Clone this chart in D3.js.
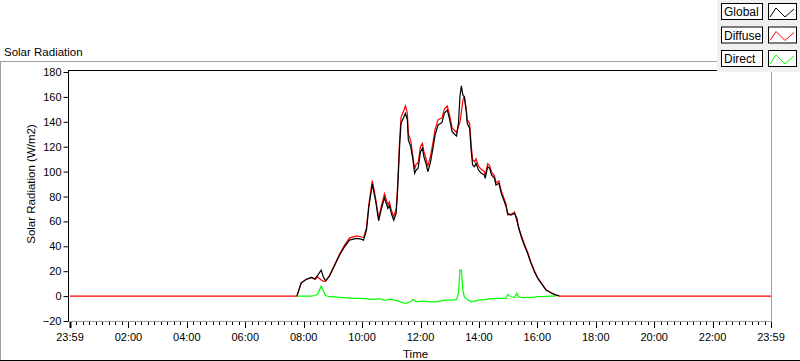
<!DOCTYPE html>
<html>
<head>
<meta charset="utf-8">
<script src="https://cdn.jsdelivr.net/npm/d3@7"></script>
<style>
  body { margin: 0; background: #fff; }
  text { font-family: "Liberation Sans", Arial, sans-serif; fill: #000; }
</style>
</head>
<body>
<svg id="chart" width="800" height="361"></svg>
<script>
// readings, time of day
const times = ["00:00","07:46","07:55","08:05","08:16","08:23","08:29","08:36","08:40","08:45",
  "08:53","09:04","09:14","09:24","09:34","09:48","09:58","10:03","10:09","10:14",
  "10:21","10:28","10:34","10:39","10:46","10:53","10:56","11:00","11:05","11:10",
  "11:13","11:17","11:20","11:26","11:29","11:33","11:35","11:40","11:44","11:48",
  "11:51","11:55","12:00","12:04","12:07","12:12","12:15","12:20","12:25","12:30",
  "12:36","12:44","12:49","12:55","13:00","13:05","13:10","13:14","13:18","13:21",
  "13:24","13:27","13:30","13:34","13:36","13:41","13:44","13:47","13:51","13:54",
  "13:59","14:05","14:11","14:13","14:18","14:22","14:26","14:32","14:35","14:41",
  "14:46","14:51","14:56","14:59","15:06","15:13","15:18","15:21","15:27","15:33",
  "15:40","15:47","15:54","16:01","16:08","16:18","16:28","16:38","16:45","24:00"];

const globalRad = [null,0,10.7,13.4,15,13.9,16.9,20.9,16,12.3,
  16,24.9,33,39.6,45,46.4,45.8,45,53,71.8,
  90,75.8,60.5,69,79,70.5,73,66.5,61,66.5,
  85,120,138.8,144,146.9,141.5,125.4,120,110.7,98.6,
  101.3,102.6,116,118.7,112,105.3,99.9,106.7,117.4,129.4,
  137.5,139.3,146.9,149.5,141.5,132,130,128.6,138.8,160.2,
  168.8,161.6,160.2,148.2,138.8,134.8,117.4,105.3,103.9,106.7,
  101.3,98.6,97.3,94.6,103.9,102.6,97.3,94.6,89.2,90.6,
  82.5,77.2,71.8,66.5,65.1,66.5,62.5,55.7,47.7,41,
  34.3,26.3,19.5,14.2,10.2,4.8,2.7,0.8,0.4,null];

const diffuseRad = [0,0,10.7,13.4,15,13.4,15.3,13,12,11.8,
  16.5,25.5,34,40.9,46.6,48.3,47.7,47,55,74.2,
  92.7,78.2,62.6,71.5,82.2,73.5,75.7,69.2,64.2,70,
  88.8,124.3,143.6,149.5,152.8,147,130.4,124.6,113.4,102.1,
  105.9,106.9,120.2,122.7,116,109.5,104.3,111.3,122,134,
  141.7,143.1,150.2,152.7,144.7,135.2,133,131.3,136.6,139.3,
  148,157,160.7,150.2,141.5,138.6,122,109.6,107.9,110.3,
  104.5,101.6,100.1,97.2,106.3,104.9,99.5,96.6,91.1,92.5,
  84.4,79.1,73.7,65.1,65.6,67.5,60.3,56.2,48.7,42.3,
  35.4,27.3,20.3,14.7,10.6,5,2.7,0.8,0,0];

const directRad = [null,0,0,0,0,0.5,1.6,8,4.3,0.5,
  -0.5,-0.6,-1,-1.3,-1.6,-1.9,-1.9,-2,-2,-2.4,
  -2.7,-2.4,-2.1,-2.5,-3.2,-3,-2.7,-2.7,-3.2,-3.5,
  -3.8,-4.3,-4.8,-5.5,-5.9,-5.5,-5,-4.6,-2.7,-3.5,
  -4.6,-4.3,-4.2,-4,-4,-4.2,-4.4,-4.6,-4.6,-4.6,
  -4.2,-3.8,-3.3,-3.2,-3.2,-3.2,-3,-2.7,2.2,20.9,
  20.9,4.8,-0.5,-2,-2.7,-3.8,-4.6,-4.3,-4,-3.6,
  -3.2,-3,-2.8,-2.6,-2.4,-2.3,-2.2,-2,-1.9,-1.9,
  -1.9,-1.9,-1.9,1.4,-0.5,-1,2.2,-0.5,-1,-1.3,
  -1.1,-1,-0.8,-0.5,-0.4,-0.2,0,0,null,null];

const yTicks = [-20,0,20,40,60,80,100,120,140,160,180];
const xTickLabels = ["23:59","02:00","04:00","06:00","08:00","10:00","12:00",
  "14:00","16:00","18:00","20:00","22:00","23:59"];
const legendNames = ["Global","Diffuse","Direct"];
const legendColors = ["#000000","#ff0000","#00ff00"];

const toMin = (s) => { const [h, m] = s.split(":").map(Number); return h * 60 + m; };

const svg = d3.select("#chart");

// panel frame
svg.append("rect").attr("width", 800).attr("height", 361).attr("fill", "#fff");
svg.append("line").attr("x1", 0).attr("x2", 717).attr("y1", 61.5).attr("y2", 61.5).attr("stroke", "#a0a0a0");
svg.append("line").attr("x1", 0.5).attr("x2", 0.5).attr("y1", 61).attr("y2", 360).attr("stroke", "#a0a0a0");
svg.append("line").attr("x1", 0).attr("x2", 800).attr("y1", 360.5).attr("y2", 360.5).attr("stroke", "#000");

svg.append("text").attr("x", 4).attr("y", 55.5).attr("font-size", 11.5).text("Solar Radiation");

const x = d3.scaleLinear().domain([0, 1440]).range([70, 771]);
const y = d3.scaleLinear().domain([-20, 180]).range([321, 72]);

// plot box
svg.append("rect").attr("x", 68).attr("y", 70).attr("width", 704).attr("height", 251).attr("fill", "#fff");
svg.append("line").attr("x1", 68).attr("x2", 772).attr("y1", 321.5).attr("y2", 321.5).attr("stroke", "#a0a0a0");
svg.append("line").attr("x1", 771.5).attr("x2", 771.5).attr("y1", 70).attr("y2", 322).attr("stroke", "#a0a0a0");
svg.append("line").attr("x1", 68).attr("x2", 772).attr("y1", 70.5).attr("y2", 70.5).attr("stroke", "#000");

// y axis
const yAxis = svg.append("g")
  .attr("transform", "translate(68.5,0)")
  .call(d3.axisLeft(y).tickValues(yTicks).tickSize(5).tickPadding(2));
yAxis.select(".domain").attr("d", "M0,70V321").attr("stroke", "#000");
yAxis.selectAll("text").attr("font-size", 11).attr("font-family", "Liberation Sans, Arial, sans-serif");

// x axis: majors every 2 h, 8 minor ticks between
const majors = d3.range(0, 1441, 120);
const minors = d3.range(0, 1440, 120 / 9).filter((v) => Math.abs(v % 120) > 1 && Math.abs(v % 120 - 120) > 1);
const xAxis = svg.append("g").attr("transform", "translate(0,322)");
xAxis.selectAll(".minor").data(minors).enter().append("line")
  .attr("x1", (d) => Math.round(x(d)) + 0.5).attr("x2", (d) => Math.round(x(d)) + 0.5)
  .attr("y1", 0).attr("y2", 3).attr("stroke", "#000");
xAxis.selectAll(".major").data(majors).enter().append("line")
  .attr("x1", (d) => Math.round(x(d)) + 0.5).attr("x2", (d) => Math.round(x(d)) + 0.5)
  .attr("y1", 0).attr("y2", 6).attr("stroke", "#000")
  .attr("stroke-width", (_, i) => (i === 0 ? 2 : 1));
xAxis.selectAll("text").data(majors).enter().append("text")
  .attr("x", (d) => x(d)).attr("y", 19).attr("text-anchor", "middle").attr("font-size", 11)
  .text((_, i) => xTickLabels[i]);

svg.append("text").attr("x", 403).attr("y", 357.5).attr("font-size", 11.5).text("Time");
svg.append("text")
  .attr("transform", "translate(35,184) rotate(-90)")
  .attr("text-anchor", "middle").attr("font-size", 11.5)
  .text("Solar Radiation (W/m2)");

// series
const rows = times.map((t, i) => ({ t: toMin(t), g: globalRad[i], d: diffuseRad[i], s: directRad[i] }));
const lineFor = (key) => d3.line()
  .defined((r) => r[key] != null)
  .x((r) => x(r.t))
  .y((r) => y(r[key]));

svg.append("path").datum(rows).attr("d", lineFor("d"))
  .attr("fill", "none").attr("stroke", legendColors[1]).attr("stroke-width", 1.2);
svg.append("path").datum(rows).attr("d", lineFor("g"))
  .attr("fill", "none").attr("stroke", legendColors[0]).attr("stroke-width", 1.2);
svg.append("path").datum(rows).attr("d", lineFor("s"))
  .attr("fill", "none").attr("stroke", legendColors[2]).attr("stroke-width", 1.2);

// legend
svg.append("rect").attr("x", 717).attr("y", 0).attr("width", 83).attr("height", 72).attr("fill", "#f0f0f0");
const leg = svg.selectAll(".leg").data(legendNames).enter().append("g")
  .attr("transform", (_, i) => `translate(0,${3 + i * 23.5})`);
leg.append("rect").attr("x", 721.5).attr("y", 0.5).attr("width", 41).attr("height", 16)
  .attr("fill", "#fff").attr("stroke", "#000");
leg.append("text").attr("x", 724).attr("y", 13).attr("font-size", 12).text((d) => d);
leg.append("rect").attr("x", 768.5).attr("y", 0.5).attr("width", 28).attr("height", 16)
  .attr("fill", "#fff").attr("stroke", "#000");
leg.append("path")
  .attr("d", d3.line()([[770, 14], [776, 5], [785, 14], [794, 6]]))
  .attr("fill", "none").attr("stroke", (_, i) => legendColors[i]);
</script>
</body>
</html>
